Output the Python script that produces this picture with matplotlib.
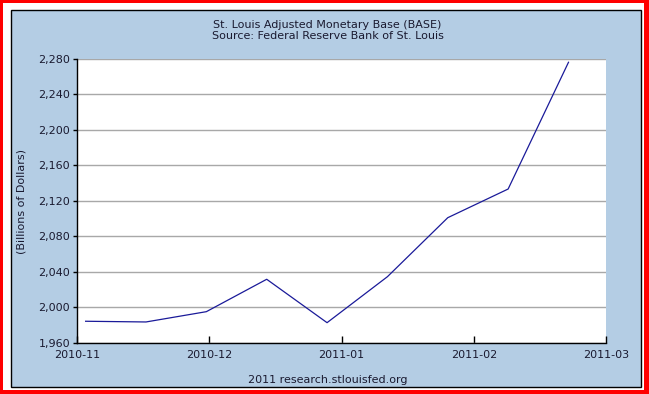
import numpy as np
import pandas as pd
import matplotlib
matplotlib.use("Agg")
from matplotlib import pyplot as plt
from matplotlib.patches import Rectangle
from matplotlib.ticker import FuncFormatter

# biweekly observations of the adjusted monetary base (billions of dollars)
obs_dates = ["2010-11-03", "2010-11-17", "2010-12-01", "2010-12-15", "2010-12-29",
             "2011-01-12", "2011-01-26", "2011-02-09", "2011-02-23"]
base_values = [1984.5, 1983.7, 1995.3, 2031.8, 1982.9, 2034.7, 2101.2, 2133.5, 2276.3]

month_labels = ["2010-11", "2010-12", "2011-01", "2011-02", "2011-03"]
y_ticks = [1960, 2000, 2040, 2080, 2120, 2160, 2200, 2240, 2280]

title_lines = "St. Louis Adjusted Monetary Base (BASE)\nSource: Federal Reserve Bank of St. Louis"
y_label = "(Billions of Dollars)"
footer = "2011 research.stlouisfed.org"

W, H = 649, 394
bg_blue = "#B4CDE4"
text_col = "#1a1a30"

fig = plt.figure(figsize=(W / 100, H / 100), dpi=100)
fig.patch.set_facecolor("white")


def px_rect(x0, y0, x1, y1, **kw):
    # rectangle given in pixel coords (origin top-left)
    return Rectangle((x0 / W, 1 - y1 / H), (x1 - x0) / W, (y1 - y0) / H,
                     transform=fig.transFigure, **kw)


# red frame, white gap, blue panel with black edge
fig.patches.append(px_rect(0, 0, W, H, facecolor="#FF0000", edgecolor="none", zorder=-12))
fig.patches.append(px_rect(3, 3, W - 5, H - 4, facecolor="white", edgecolor="none", zorder=-11))
fig.patches.append(px_rect(11, 10, 641, 387, facecolor=bg_blue, edgecolor="black",
                           linewidth=1.0, zorder=-10))

ax = fig.add_axes([77 / W, 1 - 343 / H, (606 - 77) / W, (343 - 59) / H])
ax.set_facecolor("white")
ax.set_zorder(1)

start = pd.Timestamp("2010-11-01")
days = (pd.to_datetime(obs_dates) - start).days.values
x_end = 122.7  # the axis spans slightly past Mar 1
ax.plot(days, base_values, color="#1a1a99", linewidth=0.9, zorder=3)

ax.set_xlim(0, x_end)
ax.set_ylim(y_ticks[0], y_ticks[-1])
ax.set_xticks(np.linspace(0, x_end, len(month_labels)))
ax.set_xticklabels(month_labels)
ax.set_yticks(y_ticks)
ax.yaxis.set_major_formatter(FuncFormatter(lambda v, p: f"{v:,.0f}"))

ax.grid(axis="y", color="#A8A8A8", linewidth=1.0)
ax.set_axisbelow(True)
for side in ["top", "right"]:
    ax.spines[side].set_visible(False)
for side in ["left", "bottom"]:
    ax.spines[side].set_color("black")
    ax.spines[side].set_linewidth(1.0)

ax.tick_params(axis="x", direction="in", length=5, width=1, pad=5,
               labelsize=8, labelcolor=text_col)
ax.tick_params(axis="y", direction="out", length=3, width=1, pad=2,
               labelsize=8, labelcolor=text_col)

fig.text(327.5 / W, 1 - 30.5 / H, title_lines, ha="center", va="center",
         fontsize=8, color=text_col, linespacing=1.1)
fig.text(22 / W, 1 - 201 / H, y_label, ha="center", va="center", rotation=90,
         fontsize=8, color=text_col)
fig.text(328 / W, 1 - 380 / H, footer, ha="center", va="center",
         fontsize=8, color=text_col)

fig.savefig("out.png", dpi=100)
